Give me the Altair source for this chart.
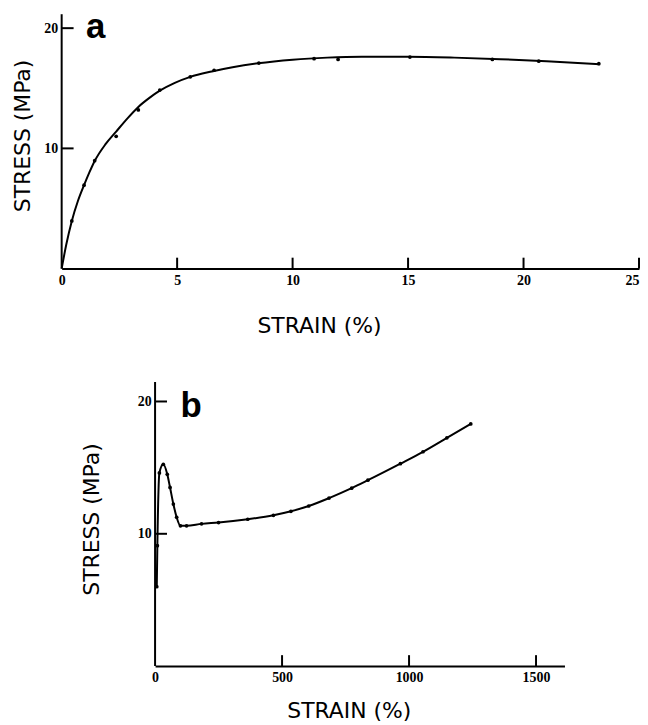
import altair as alt
import pandas as pd

# ---------------- data ----------------
# Panel a: smooth fitted curve
curve_a_strain = [0, 0.2, 0.44, 0.7, 0.97, 1.2, 1.43, 1.9, 2.36, 2.85, 3.32, 3.8, 4.25,
                  4.9, 5.57, 6.5, 7.4, 8.5, 10, 11.5, 13, 15, 17, 19, 21, 23.3]
curve_a_stress = [0, 2.0, 3.97, 5.6, 6.94, 8.0, 8.95, 10.35, 11.4, 12.5, 13.45, 14.2, 14.8,
                  15.45, 15.95, 16.4, 16.75, 17.08, 17.38, 17.55, 17.62, 17.62, 17.55,
                  17.42, 17.25, 17.0]
# Panel a: measured points
pts_a_strain = [0.44, 0.97, 1.43, 2.36, 3.32, 4.25, 5.57, 6.6, 8.54, 10.93, 11.97,
                15.08, 18.65, 20.66, 23.26]
pts_a_stress = [3.97, 6.94, 8.98, 11.0, 13.2, 14.85, 15.95, 16.5, 17.1, 17.46, 17.4,
                17.6, 17.4, 17.25, 17.05]
# Panel b: measured points (curve drawn through them)
b_strain = [6.7, 9, 17, 32.5, 48, 59, 72, 85, 100, 124, 183, 250, 365, 466, 535, 605,
            685, 774, 838, 966, 1055, 1149, 1243]
b_stress = [6.0, 9.1, 14.6, 15.25, 14.5, 13.5, 12.25, 11.25, 10.6, 10.6, 10.75, 10.85,
            11.1, 11.4, 11.7, 12.1, 12.7, 13.45, 14.05, 15.3, 16.2, 17.25, 18.3]

x_ticks_a = [0, 5, 10, 15, 20, 25]
y_ticks_a = [10, 20]
x_ticks_b = [0, 500, 1000, 1500]
y_ticks_b = [10, 20]
y_axis_top = [21.16, 21.48]      # where each drawn stress axis line ends

panel_letters = ["a", "b"]
letter_x = [1.05, 100]
letter_y = [19.17, 18.8]

x_title = "STRAIN (%)"
y_title = "STRESS (MPa)"

LABEL_FONT = "Liberation Serif"
TITLE_FONT = "DejaVu Sans"
LETTER_FONT = "Liberation Sans"
TICK_LEN = 11


def panel(curve_df, pts_df, letter_df, xdom, ydom, ytop, xticks, yticks, w, h,
          title_x, title_y, x_title_pad, y_title_pad, last_tick):
    xs = alt.Scale(domain=xdom, nice=False, zero=False)
    ys = alt.Scale(domain=ydom, nice=False, zero=False)
    common = dict(grid=False, ticks=False, domainColor="black", domainWidth=2,
                  labelColor="black", labelFont=LABEL_FONT, labelFontSize=14,
                  labelFontWeight="bold", titleFont=TITLE_FONT, titleFontSize=22,
                  titleFontWeight="normal", titleColor="black")
    x_axis = alt.Axis(values=xticks, labelAngle=0, labelPadding=5, format="d",
                      title=x_title, titleX=title_x, titlePadding=x_title_pad,
                      labelAlign={"condition": {"test": f"datum.value == {last_tick}",
                                                "value": "right"},
                                  "value": "center"},
                      **common)
    y_axis = alt.Axis(values=yticks, labelPadding=4, title=y_title, domain=False,
                      titleY=title_y, titlePadding=y_title_pad, **common)

    line = alt.Chart(curve_df).mark_line(
        color="black", strokeWidth=2, interpolate="monotone"
    ).encode(
        x=alt.X("strain:Q", scale=xs, axis=x_axis),
        y=alt.Y("stress:Q", scale=ys, axis=y_axis),
    )
    pts = alt.Chart(pts_df).mark_circle(color="black", size=14, opacity=1).encode(
        x=alt.X("strain:Q", scale=xs),
        y=alt.Y("stress:Q", scale=ys),
    )
    # stress axis line, drawn from 0 up to where the original axis stops
    yline = alt.Chart(pd.DataFrame({"lo": [ydom[0]], "hi": [ytop]})).mark_rule(
        color="black", strokeWidth=2
    ).encode(
        x=alt.value(0),
        y=alt.Y("lo:Q", scale=ys),
        y2="hi:Q",
    )
    # inward tick marks, placed by the scales
    xt = pd.DataFrame({"v": [t for t in xticks if t != xdom[0]]})
    yt = pd.DataFrame({"v": list(yticks)})
    x_tick_marks = alt.Chart(xt).mark_rule(color="black", strokeWidth=2).encode(
        x=alt.X("v:Q", scale=xs),
        y=alt.value(h),
        y2=alt.value(h - TICK_LEN),
    )
    y_tick_marks = alt.Chart(yt).mark_rule(color="black", strokeWidth=2).encode(
        y=alt.Y("v:Q", scale=ys),
        x=alt.value(0),
        x2=alt.value(TICK_LEN + 1),
    )
    letter = alt.Chart(letter_df).mark_text(
        font=LETTER_FONT, fontSize=35, fontWeight="bold", color="black",
        align="left", baseline="alphabetic"
    ).encode(
        x=alt.X("x:Q", scale=xs),
        y=alt.Y("y:Q", scale=ys),
        text="t:N",
    )
    return alt.layer(line, pts, yline, x_tick_marks, y_tick_marks, letter).properties(
        width=w, height=h
    )


curve_a = pd.DataFrame({"strain": curve_a_strain, "stress": curve_a_stress})
pts_a = pd.DataFrame({"strain": pts_a_strain, "stress": pts_a_stress})
curve_b = pd.DataFrame({"strain": b_strain, "stress": b_stress})
pts_b = pd.DataFrame({"strain": b_strain, "stress": b_stress})
let_a = pd.DataFrame({"x": [letter_x[0]], "y": [letter_y[0]], "t": [panel_letters[0]]})
let_b = pd.DataFrame({"x": [letter_x[1]], "y": [letter_y[1]], "t": [panel_letters[1]]})

chart_a = panel(curve_a, pts_a, let_a, [0, 25], [0, 21.49], y_axis_top[0],
                x_ticks_a, y_ticks_a, 581, 260, 259, 126, 28, 9, 25)
chart_b = panel(curve_b, pts_b, let_b, [0, 1612], [0, 21.48], y_axis_top[1],
                x_ticks_b, y_ticks_b, 412, 286, 195, 138, 16, 34, 99999)

# invisible spacer that pushes panel b to the right, as in the original layout
spacer = alt.Chart(pd.DataFrame({"s": [0]})).mark_rule(opacity=0).encode(
    x=alt.value(0), y=alt.value(0), y2=alt.value(1)
).properties(width=19, height=1)

chart = alt.vconcat(
    chart_a, alt.hconcat(spacer, chart_b, spacing=0), spacing=45
).configure_view(stroke=None).properties(
    padding={"left": 4, "top": 0, "right": 0, "bottom": 0}
)

chart.save("out.html", embed_options={"renderer": "svg", "actions": False})
